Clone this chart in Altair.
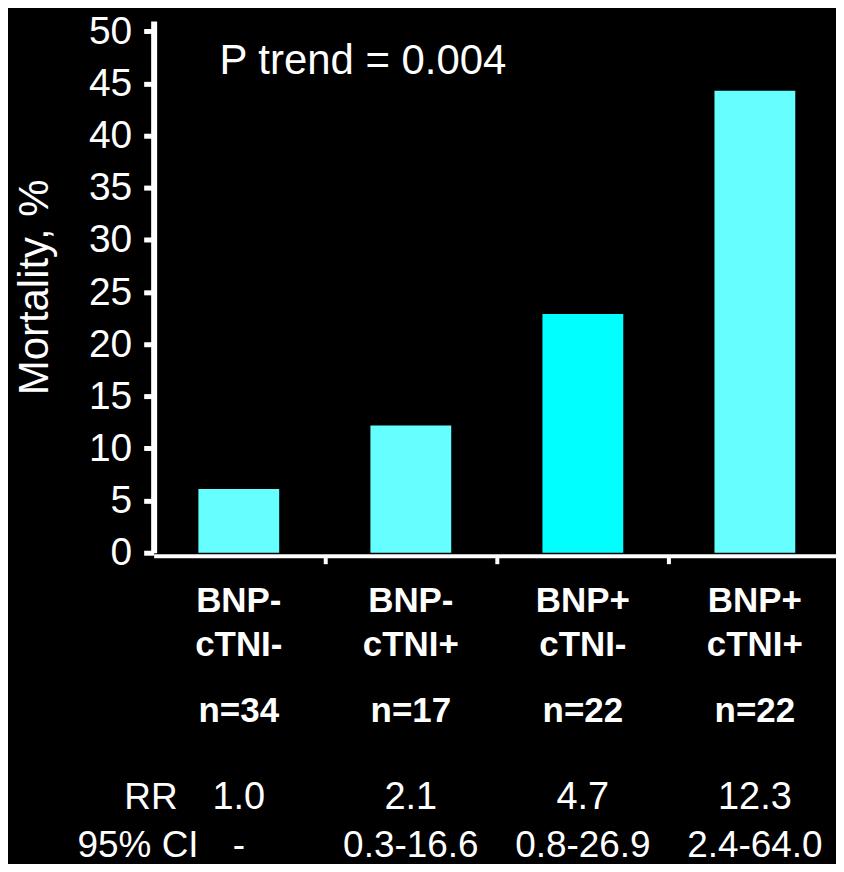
import altair as alt
import pandas as pd

# ---- data ----
group_bnp = ["BNP-", "BNP-", "BNP+", "BNP+"]
group_ctni = ["cTNI-", "cTNI+", "cTNI-", "cTNI+"]
group_n = ["n=34", "n=17", "n=22", "n=22"]
mortality = [6.1, 12.2, 22.9, 44.3]
bar_colors = ["#66FFFF", "#66FFFF", "#00FFFF", "#66FFFF"]
rr_values = ["1.0", "2.1", "4.7", "12.3"]
ci_values = ["-", "0.3-16.6", "0.8-26.9", "2.4-64.0"]
row_headers = ["RR", "95% CI"]
y_ticks = list(range(0, 51, 5))
annotation = "P trend = 0.004"

W = 684
H = 533
STEP = 175
X0 = 0.034

df = pd.DataFrame({
    "pos": [i + 0.5 for i in range(len(mortality))],
    "mortality": mortality,
    "color": bar_colors,
    "bnp": group_bnp,
    "ctni": group_ctni,
    "n": group_n,
    "rr": rr_values,
    "ci": ci_values,
})

FONT = "Liberation Sans"

x_enc = alt.X(
    "pos:Q",
    scale=alt.Scale(domain=[X0, X0 + W / STEP], nice=False, zero=False),
    axis=alt.Axis(
        values=[1, 2, 3], labels=False, title=None, grid=False,
        domainColor="white", domainWidth=4, tickColor="white",
        tickWidth=4, tickSize=8, offset=3,
    ),
)

y_enc = alt.Y(
    "mortality:Q",
    scale=alt.Scale(domain=[0, 51], nice=False),
    axis=alt.Axis(
        values=y_ticks, title="Mortality, %", grid=False,
        domainColor="white", domainWidth=6, tickColor="white",
        tickWidth=5, tickSize=10, labelPadding=12,
        labelColor="white", labelFont=FONT, labelFontSize=39,
        labelBaseline="middle",
        titleColor="white", titleFont=FONT, titleFontSize=42,
        titleFontWeight="normal", titleAngle=-90, titleAlign="center",
        titleBaseline="alphabetic", titleX=-106, titleY=H / 2,
    ),
)

bars = alt.Chart(df).mark_bar(size=81).encode(
    x=x_enc,
    y=y_enc,
    color=alt.Color("color:N", scale=None),
)

base = alt.Chart(df)

def row(field, dy, bold, size):
    return base.mark_text(
        font=FONT, fontSize=size, fontWeight="bold" if bold else "normal",
        color="white", align="center", baseline="alphabetic",
    ).encode(x="pos:Q", y=alt.value(H + dy), text=f"{field}:N")

t_bnp = row("bnp", 59, True, 35)
t_ctni = row("ctni", 104, True, 35)
t_n = row("n", 170, True, 35)
t_rr = row("rr", 257, False, 38)
t_ci = row("ci", 305, False, 37)

headers = pd.DataFrame({"label": row_headers, "dy": [257, 305], "xr": [24, 45]})
t_head = alt.Chart(headers).transform_calculate(
    yy=f"datum.dy + {H}"
).mark_text(
    font=FONT, fontSize=37, color="white", align="right", baseline="alphabetic",
).encode(
    x=alt.X("xr:Q", scale=None),
    y=alt.Y("yy:Q", scale=None),
    text="label:N",
)

t_p = alt.Chart(pd.DataFrame({"t": [annotation]})).mark_text(
    font=FONT, fontSize=42, color="white", align="left", baseline="alphabetic",
).encode(x=alt.value(66), y=alt.value(53), text="t:N")

chart = alt.layer(bars, t_bnp, t_ctni, t_n, t_rr, t_ci, t_head, t_p).properties(
    width=W, height=H,
    autosize="none",
    padding={"left": 146, "top": 12, "right": 0, "bottom": 311},
    background="black",
).configure_view(stroke=None)

chart.save("out.html", embed_options={"renderer": "svg", "actions": False})
